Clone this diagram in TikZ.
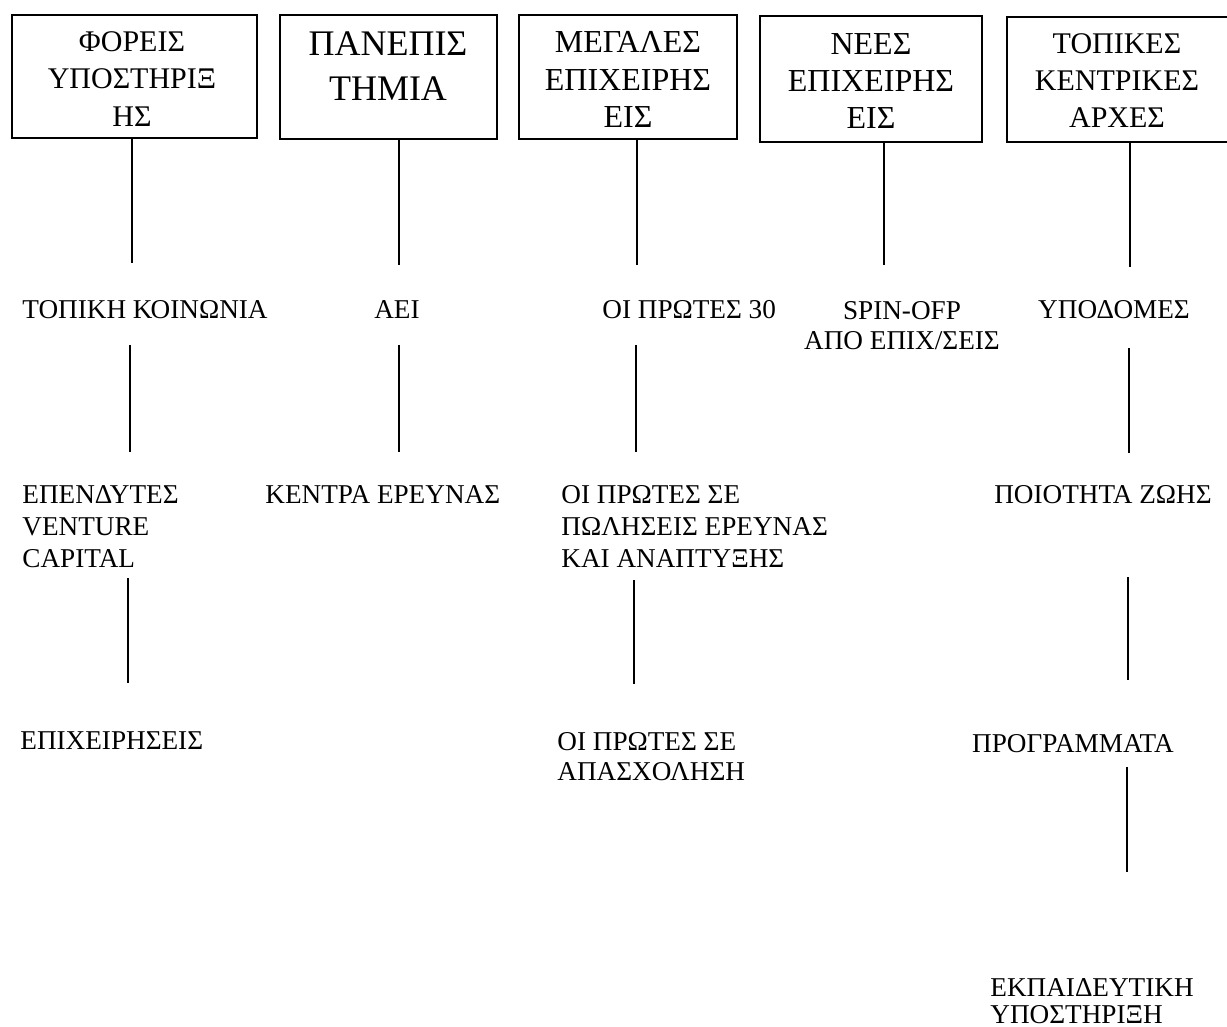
\documentclass[tikz,border=0pt]{standalone}
\usepackage{fontspec}
\setmainfont{Liberation Serif}
\usetikzlibrary{fit}

\tikzset{
	frame/.style={draw, line width=0.8pt, inner sep=0pt},
	head/.style={align=center, anchor=north, inner sep=0pt},
	item/.style={align=left, anchor=north west, inner sep=0pt, font=\fontsize{13.6}{16}\selectfont},
	link/.style={line width=0.7pt}
}

\begin{document}
\begin{tikzpicture}[x=0.5pt, y=-0.5pt]
	\useasboundingbox (0,0) rectangle (1227,1027);

	%% top boxes
	\node[frame, fit={(12,15) (257,138)}] (box1) {};
	\node[frame, fit={(280,15) (497,139)}] (box2) {};
	\node[frame, fit={(519,15) (737,139)}] (box3) {};
	\node[frame, fit={(760,16) (982,142)}] (box4) {};
	\node[frame, fit={(1007,17) (1230,142)}] (box5) {};

	\node[head, font=\fontsize{15}{18.75}\selectfont] (hd1) at (132,31) {ΦΟΡΕΙΣ\\ΥΠΟΣΤΗΡΙΞ\\ΗΣ};
	\node[head, font=\fontsize{18}{22.5}\selectfont] (hd2) at (388,31) {ΠΑΝΕΠΙΣ\\ΤΗΜΙΑ};
	\node[head, font=\fontsize{16}{18.75}\selectfont] (hd3) at (628,31) {ΜΕΓΑΛΕΣ\\ΕΠΙΧΕΙΡΗΣ\\ΕΙΣ};
	\node[head, font=\fontsize{16}{18.5}\selectfont] (hd4) at (871,33) {ΝΕΕΣ\\ΕΠΙΧΕΙΡΗΣ\\ΕΙΣ};
	\node[head, font=\fontsize{15}{18.5}\selectfont] (hd5) at (1117,33) {ΤΟΠΙΚΕΣ\\ΚΕΝΤΡΙΚΕΣ\\ΑΡΧΕΣ};

	%% first row
	\node[item] (topiki) at (22,300) {ΤΟΠΙΚΗ ΚΟΙΝΩΝΙΑ};
	\node[item, anchor=north] (aei) at (397,300) {ΑΕΙ};
	\node[item] (protes30) at (602,300) {ΟΙ ΠΡΩΤΕΣ 30};
	\node[item, anchor=north, align=center, font=\fontsize{13.6}{15}\selectfont] (spinoff) at (902,301) {SPIN-OFP\\ΑΠΟ ΕΠΙΧ/ΣΕΙΣ};
	\node[item, anchor=north] (ypodomes) at (1114,300) {ΥΠΟΔΟΜΕΣ};

	%% second row
	\node[item] (ependytes) at (22,485) {ΕΠΕΝΔΥΤΕΣ\\VENTURE\\CAPITAL};
	\node[item] (kentra) at (265,485) {ΚΕΝΤΡΑ ΕΡΕΥΝΑΣ};
	\node[item] (poliseis) at (561,485) {ΟΙ ΠΡΩΤΕΣ ΣΕ\\ΠΩΛΗΣΕΙΣ ΕΡΕΥΝΑΣ\\ΚΑΙ ΑΝΑΠΤΥΞΗΣ};
	\node[item, anchor=north] (poiotita) at (1103,485) {ΠΟΙΟΤΗΤΑ ΖΩΗΣ};

	%% third row
	\node[item] (epixeiriseis) at (20,731) {ΕΠΙΧΕΙΡΗΣΕΙΣ};
	\node[item, font=\fontsize{13.6}{15}\selectfont] (apasxolisi) at (557,732) {ΟΙ ΠΡΩΤΕΣ ΣΕ\\ΑΠΑΣΧΟΛΗΣΗ};
	\node[item, anchor=north] (programmata) at (1073,734) {ΠΡΟΓΡΑΜΜΑΤΑ};

	%% last row
	\node[item, font=\fontsize{13.6}{13.5}\selectfont] (ekpaideysi) at (990,978) {ΕΚΠΑΙΔΕΥΤΙΚΗ\\ΥΠΟΣΤΗΡΙΞΗ};

	%% free ends of the lines
	\coordinate (t1) at (132,263);
	\coordinate (t2) at (399,265);
	\coordinate (t3) at (637,265);
	\coordinate (t4) at (884,265);
	\coordinate (t5) at (1130,267);
	\coordinate (m1a) at (130,345);  \coordinate (m1b) at (130,452);
	\coordinate (m2a) at (399,345);  \coordinate (m2b) at (399,452);
	\coordinate (m3a) at (636,345);  \coordinate (m3b) at (636,452);
	\coordinate (m5a) at (1129,348); \coordinate (m5b) at (1129,453);
	\coordinate (l1a) at (128,578);  \coordinate (l1b) at (128,683);
	\coordinate (l3a) at (634,580);  \coordinate (l3b) at (634,684);
	\coordinate (l5a) at (1128,577); \coordinate (l5b) at (1128,680);
	\coordinate (p5a) at (1127,767); \coordinate (p5b) at (1127,872);

	%% lines
	\draw[link] (box1.south -| t1) -- (t1);
	\draw[link] (box2.south -| t2) -- (t2);
	\draw[link] (box3.south -| t3) -- (t3);
	\draw[link] (box4.south -| t4) -- (t4);
	\draw[link] (box5.south -| t5) -- (t5);
	\draw[link] (m1a) -- (m1b);
	\draw[link] (m2a) -- (m2b);
	\draw[link] (m3a) -- (m3b);
	\draw[link] (m5a) -- (m5b);
	\draw[link] (l1a) -- (l1b);
	\draw[link] (l3a) -- (l3b);
	\draw[link] (l5a) -- (l5b);
	\draw[link] (p5a) -- (p5b);
\end{tikzpicture}
\end{document}
